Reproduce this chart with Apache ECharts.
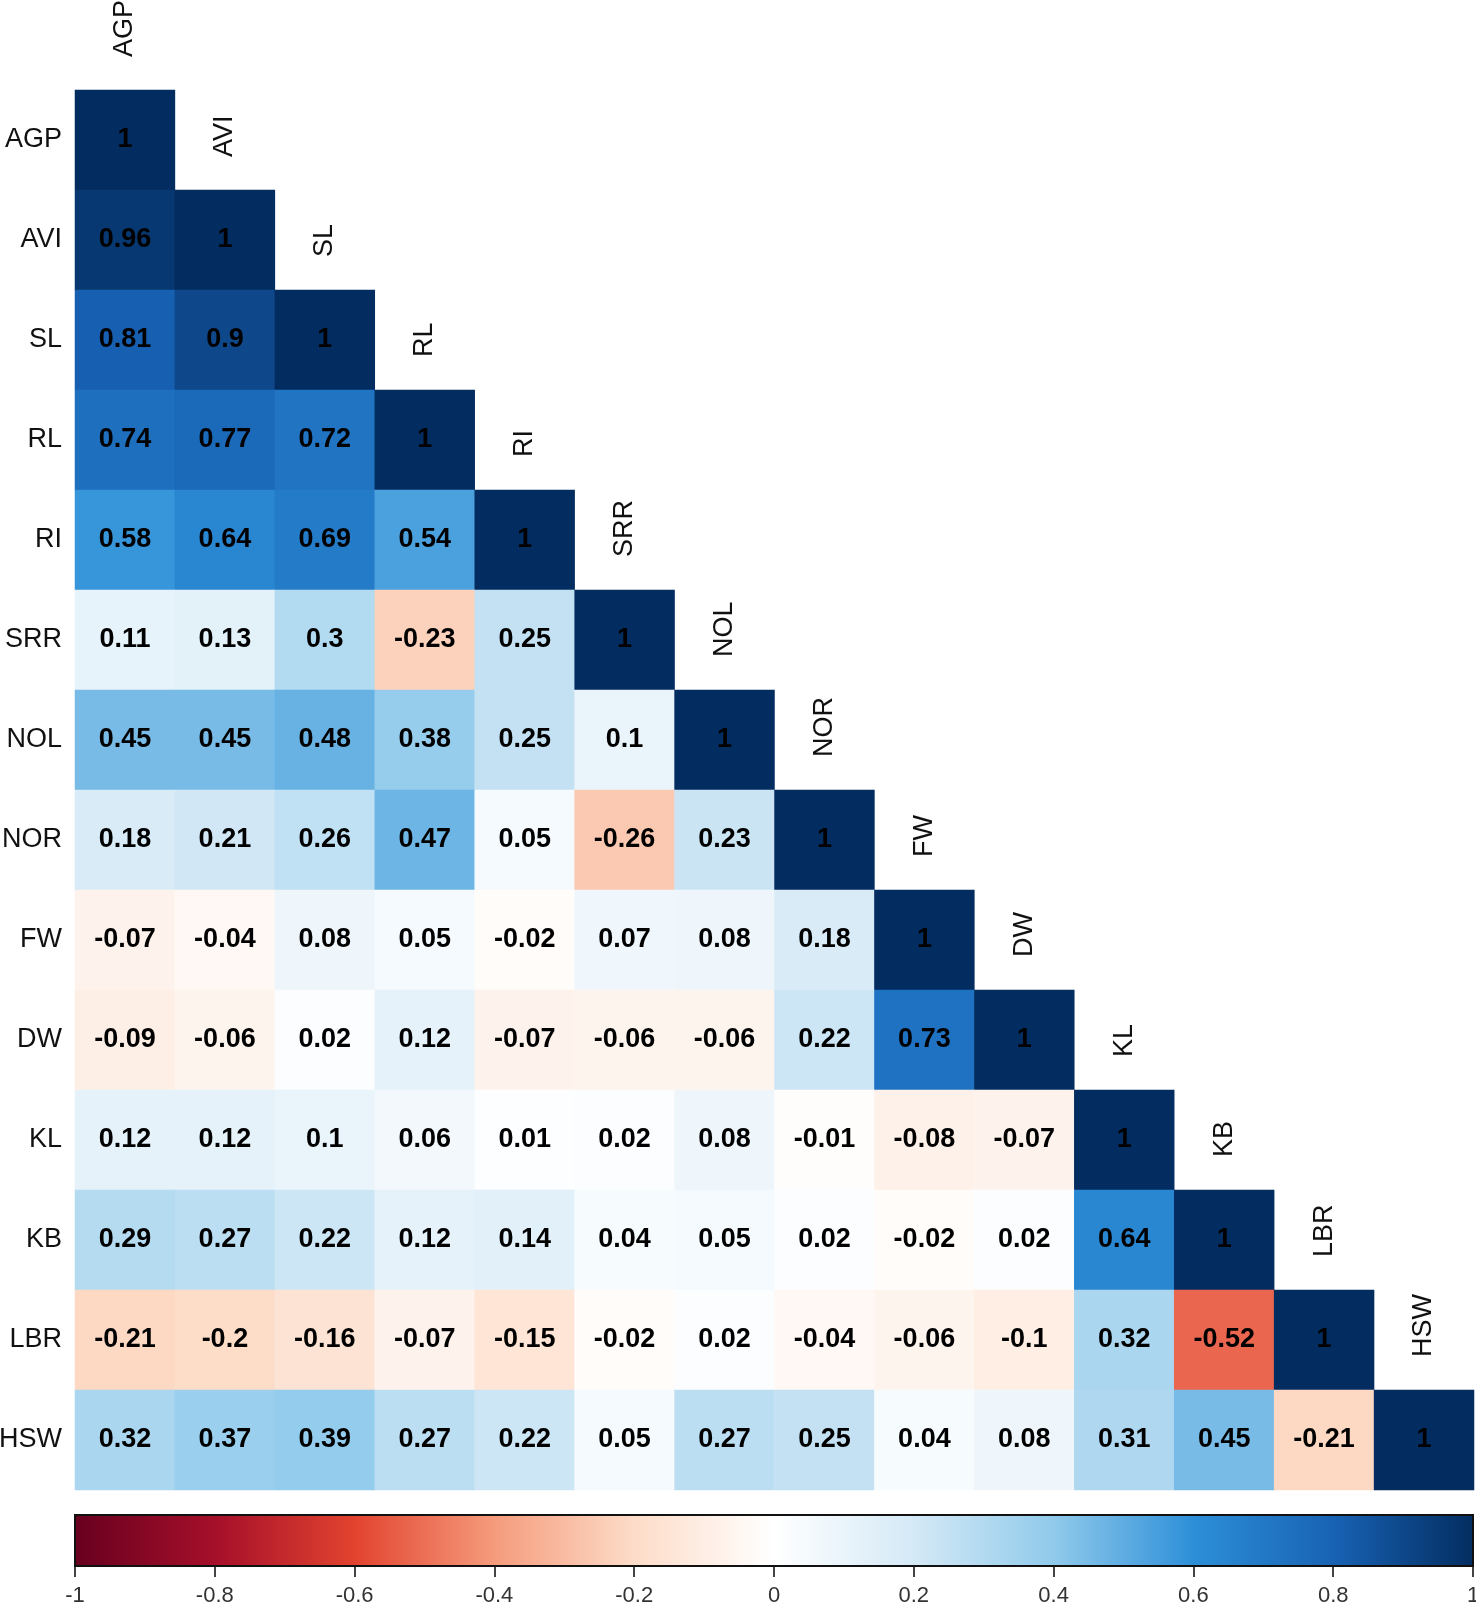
<!DOCTYPE html>
<html>
<head>
<meta charset="utf-8">
<script src="https://cdn.jsdelivr.net/npm/echarts@6/dist/echarts.min.js"></script>
<style>
html,body{margin:0;padding:0;background:#fff;}
#chart{width:1476px;height:1606px;}
</style>
</head>
<body>
<div id="chart"></div>
<script>
const variables = ['AGP','AVI','SL','RL','RI','SRR','NOL','NOR','FW','DW','KL','KB','LBR','HSW'];
// lower triangle rows (row i has i+1 values, columns 0..i)
const corrRows = [
  [1],
  [0.96, 1],
  [0.81, 0.9, 1],
  [0.74, 0.77, 0.72, 1],
  [0.58, 0.64, 0.69, 0.54, 1],
  [0.11, 0.13, 0.3, -0.23, 0.25, 1],
  [0.45, 0.45, 0.48, 0.38, 0.25, 0.1, 1],
  [0.18, 0.21, 0.26, 0.47, 0.05, -0.26, 0.23, 1],
  [-0.07, -0.04, 0.08, 0.05, -0.02, 0.07, 0.08, 0.18, 1],
  [-0.09, -0.06, 0.02, 0.12, -0.07, -0.06, -0.06, 0.22, 0.73, 1],
  [0.12, 0.12, 0.1, 0.06, 0.01, 0.02, 0.08, -0.01, -0.08, -0.07, 1],
  [0.29, 0.27, 0.22, 0.12, 0.14, 0.04, 0.05, 0.02, -0.02, 0.02, 0.64, 1],
  [-0.21, -0.2, -0.16, -0.07, -0.15, -0.02, 0.02, -0.04, -0.06, -0.1, 0.32, -0.52, 1],
  [0.32, 0.37, 0.39, 0.27, 0.22, 0.05, 0.27, 0.25, 0.04, 0.08, 0.31, 0.45, -0.21, 1]
];
const colorbarTicks = [-1, -0.8, -0.6, -0.4, -0.2, 0, 0.2, 0.4, 0.6, 0.8, 1];
const paletteColors = ['#67001F','#A50F2A','#E2432F','#F59B7C','#FDDCC8','#FFFFFF','#D4E9F6','#90CAEB','#2D8FD8','#1862B4','#032D60'];

const heatData = [];
corrRows.forEach((row, i) => row.forEach((v, j) => heatData.push([j, i, v])));
const diagData = variables.map((v, i) => [i, i]);

const FONT = '"Liberation Sans", Arial, Helvetica, sans-serif';
const chart = echarts.init(document.getElementById('chart'), null, {renderer: 'canvas'});

const gradStops = paletteColors.map((c, k) => ({offset: k / (paletteColors.length - 1), color: c}));

chart.setOption({
  animation: false,
  backgroundColor: '#ffffff',
  grid: [
    {left: 75, top: 90, width: 1399, height: 1400, containLabel: false, outerBoundsMode: 'none'},
    {left: 75, top: 1515, width: 1398, height: 51, containLabel: false, outerBoundsMode: 'none'}
  ],
  xAxis: [
    {type: 'category', gridIndex: 0, data: variables, show: false},
    {type: 'value', gridIndex: 1, min: -1, max: 1, interval: 0.2,
     axisLine: {show: false}, splitLine: {show: false},
     axisTick: {show: true, length: 11, lineStyle: {color: '#444', width: 2}},
     axisLabel: {show: true, margin: 19, fontSize: 22, color: '#333', fontFamily: FONT,
       formatter: v => String(+v.toFixed(1))}}
  ],
  yAxis: [
    {type: 'category', gridIndex: 0, data: variables, inverse: true,
     axisLine: {show: false}, axisTick: {show: false}, splitLine: {show: false},
     axisLabel: {margin: 13, fontSize: 27, color: '#111', fontFamily: FONT}},
    {type: 'value', gridIndex: 1, min: 0, max: 1, show: false}
  ],
  visualMap: {
    show: false, type: 'continuous', min: -1, max: 1, seriesIndex: 0,
    inRange: {color: paletteColors}
  },
  series: [
    {
      type: 'heatmap', xAxisIndex: 0, yAxisIndex: 0, data: heatData,
      label: {show: true, fontSize: 27, fontWeight: 'bold', color: '#000', fontFamily: FONT,
        formatter: p => String(p.value[2])},
      itemStyle: {borderWidth: 0},
      emphasis: {disabled: true}
    },
    {
      type: 'custom', xAxisIndex: 0, yAxisIndex: 0, data: diagData, clip: false, silent: true,
      renderItem: (params, api) => {
        const c = api.coord([api.value(0), api.value(1)]);
        const s = api.size([1, 1]);
        return {
          type: 'text', x: c[0], y: c[1] - s[1] / 2 - 33, rotation: Math.PI / 2,
          style: {text: variables[params.dataIndex], textAlign: 'left', textVerticalAlign: 'middle',
            fontSize: 27, fontFamily: FONT, fill: '#111'}
        };
      }
    },
    {
      type: 'custom', xAxisIndex: 1, yAxisIndex: 1, data: [[colorbarTicks[0], colorbarTicks[colorbarTicks.length - 1]]],
      silent: true, clip: false,
      renderItem: (params, api) => {
        const p0 = api.coord([api.value(0), 1]);
        const p1 = api.coord([api.value(1), 0]);
        return {
          type: 'rect',
          shape: {x: p0[0], y: p0[1], width: p1[0] - p0[0], height: p1[1] - p0[1]},
          style: {fill: new echarts.graphic.LinearGradient(0, 0, 1, 0, gradStops), stroke: '#111', lineWidth: 2}
        };
      }
    }
  ]
});
</script>
</body>
</html>
